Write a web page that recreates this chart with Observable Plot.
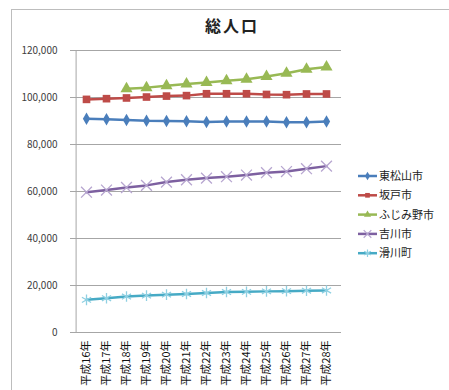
<!DOCTYPE html>
<html><head><meta charset="utf-8">
<script src="https://cdn.jsdelivr.net/npm/d3@7"></script>
<script src="https://cdn.jsdelivr.net/npm/@observablehq/plot@0.6"></script>
<style>
body{margin:0;background:#fff;font-family:"Noto Sans CJK JP",sans-serif;}
#wrap{position:relative;width:449px;height:390px;overflow:hidden;}
#frame{position:absolute;left:11px;top:9px;width:440px;height:390px;border:1px solid #bdbdbd;box-sizing:border-box;}
#title{position:absolute;left:0;width:464px;top:13px;text-align:center;font-size:16px;font-weight:bold;color:#222;letter-spacing:2px;}
#chart{position:absolute;left:0;top:0;}
#legend{position:absolute;left:355px;top:165px;}
</style></head>
<body><div id="wrap"><div id="frame"></div><div id="chart"></div><div id="title">総人口</div><svg id="legend" width="94" height="100"></svg></div>
<script>
const years = ["平成16年","平成17年","平成18年","平成19年","平成20年","平成21年","平成22年","平成23年","平成24年","平成25年","平成26年","平成27年","平成28年"];
const seriesNames = ["東松山市","坂戸市","ふじみ野市","吉川市","滑川町"];
const higashimatsuyama = [91000,90700,90400,90100,90000,89900,89600,89800,89800,89800,89500,89500,89800];
const sakado = [99200,99500,99800,100200,100600,100800,101600,101600,101600,101300,101200,101500,101500];
const fujimino = [null,null,103700,104200,105000,105700,106400,107100,107800,108900,110300,112000,113000];
const yoshikawa = [59700,60600,61700,62600,64000,65000,65700,66300,67000,68000,68500,69700,70800];
const namegawa = [13900,14600,15300,15700,16100,16400,16800,17200,17300,17500,17600,17800,17900];
const yTicks = [0,20000,40000,60000,80000,100000,120000];

const colors = ["#4A7EBB","#BE4B48","#98B954","#7D60A0","#46AAC5"];
const symbols = ["diamond","square","triangle","times","asterisk"];
const filled = [true,true,true,false,false];
const allValues = [higashimatsuyama,sakado,fujimino,yoshikawa,namegawa];

const rows = [];
allValues.forEach((vals,si)=>vals.forEach((v,i)=>{ if(v!=null) rows.push({series:seriesNames[si], si, year:years[i], value:v}); }));

const marks = [
  Plot.ruleY(yTicks,{stroke:"#a6a6a6",strokeWidth:1}),
  Plot.ruleX([0],{x:()=>years[0],dx:-10.4,stroke:"#a6a6a6"}),
  Plot.axisY({ticks:yTicks,tickSize:0,tickPadding:13,tickFormat:d3.format(","),fontSize:10,fill:"#404040",label:null}),
  Plot.axisX({tickSize:0,tickPadding:8,tickRotate:-90,fontSize:11,fill:"#111",label:null,style:{letterSpacing:"0.5px"}})
];
seriesNames.forEach((name,si)=>{
  const d = rows.filter(r=>r.si===si);
  marks.push(Plot.line(d,{x:"year",y:"value",stroke:colors[si],strokeWidth:2.5}));
  if(filled[si]) marks.push(Plot.dot(d,{x:"year",y:"value",symbol:()=>symbols[si],fill:colors[si],r:si===2?4.5:si===1?4.3:3.8}));
  else marks.push(Plot.dot(d,{x:"year",y:"value",symbol:()=>symbols[si],stroke:si===3?"#b7a6d0":"#8fd0e2",strokeWidth:1.3,r:5}));
});

const plot = Plot.plot({
  width:449,height:390,
  marginLeft:70,marginRight:108,marginTop:50,marginBottom:58,
  style:{fontFamily:"'Noto Sans CJK JP',sans-serif",background:"transparent"},
  x:{type:"band",domain:years,padding:0},
  y:{domain:[0,120000]},
  symbol:{type:"identity"},
  marks
});
document.getElementById("chart").appendChild(plot);

// legend
const lg = d3.select("#legend");
const symMap = {diamond:d3.symbolDiamond,square:d3.symbolSquare,triangle:d3.symbolTriangle,times:d3.symbolTimes,asterisk:d3.symbolAsterisk};
seriesNames.forEach((name,si)=>{
  const y = 11 + si*19.3;
  lg.append("line").attr("x1",3).attr("x2",22).attr("y1",y).attr("y2",y).attr("stroke",colors[si]).attr("stroke-width",2.5);
  const p = lg.append("path").attr("transform",`translate(12.5,${y})`).attr("d",d3.symbol(symMap[symbols[si]], filled[si]?22:40)());
  if(filled[si]) p.attr("fill",colors[si]); else p.attr("fill","none").attr("stroke",si===3?"#b7a6d0":"#8fd0e2").attr("stroke-width",1.2);
  lg.append("text").attr("x",24).attr("y",y).attr("dy","0.36em").attr("font-size",11).attr("fill","#222").attr("font-family","'Noto Sans CJK JP',sans-serif").text(name);
});
</script></body></html>
